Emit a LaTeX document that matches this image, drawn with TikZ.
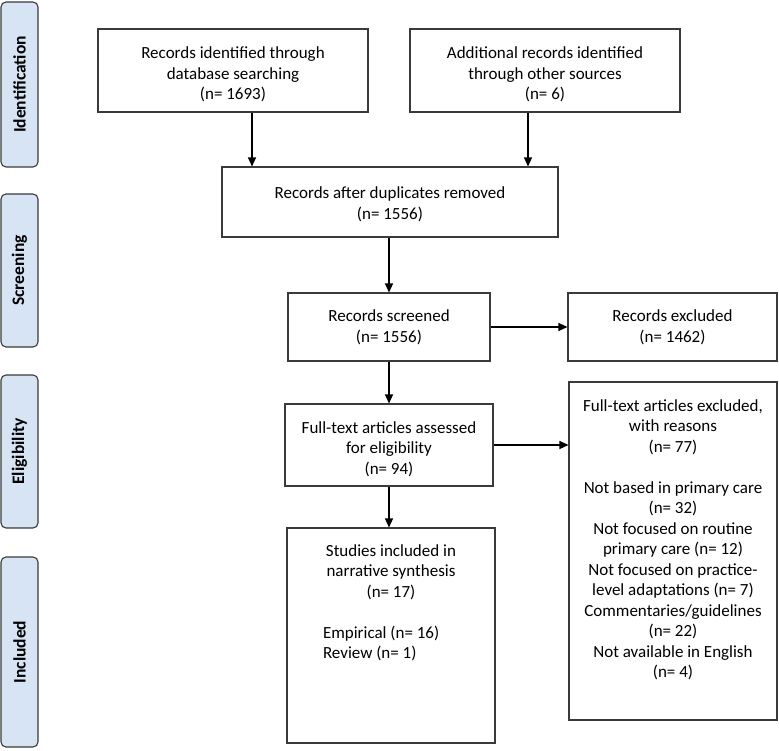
\documentclass[tikz,border=0pt]{standalone}
\usepackage{fontspec}
\setmainfont{Carlito}
\usetikzlibrary{arrows.meta}
\definecolor{tabblue}{HTML}{D6E4F4}
\definecolor{edge}{HTML}{3A3A3A}
\newcommand{\lowfirst}{\rule{0pt}{20pt}}
\begin{document}
\begin{tikzpicture}[x=1pt,y=-1pt,
  box/.style={draw=edge, line width=1.1pt, fill=white, inner sep=0pt, align=center,
    font=\fontsize{17}{20.6}\selectfont},
  tallbox/.style={draw=edge, line width=1.1pt, fill=white, inner sep=0pt,
    font=\fontsize{17}{20.5}\selectfont},
  tab/.style={draw=edge, line width=1.1pt, fill=tabblue, rounded corners=5pt,
    rotate=90, minimum height=37pt, inner sep=0pt,
    font=\fontsize{17.5}{19}\selectfont\bfseries},
  arr/.style={draw=black, line width=1.2pt, -{Triangle[length=9pt,width=8pt]}}]
\useasboundingbox (0,0) rectangle (779,751);

% phase tabs
\node[tab, minimum width=165pt] (tid) at (19.5,84.5) {Identification};
\node[tab, minimum width=153pt] (tsc) at (19.5,270.5) {Screening};
\node[tab, minimum width=153pt] (tel) at (19.5,451.5) {Eligibility};
\node[tab, minimum width=190pt] (tin) at (19.5,652) {Included};

% boxes
\node[box, minimum width=270pt, minimum height=83pt] (b1) at (233,70.5)
  {\lowfirst Records identified through\\database searching\\(n= 1693)};
\node[box, minimum width=270pt, minimum height=83pt] (b2) at (545,70.5)
  {\lowfirst Additional records identified\\through other sources\\(n= 6)};
\node[box, minimum width=336pt, minimum height=70pt] (b3) at (390,202)
  {\rule{0pt}{16pt}Records after duplicates removed\\(n= 1556)};
\node[box, minimum width=202pt, minimum height=68pt] (b4) at (389,327)
  {Records screened\\(n= 1556)};
\node[box, minimum width=209pt, minimum height=68pt] (b5) at (672.5,327)
  {Records excluded\\(n= 1462)};
\node[box, minimum width=208pt, minimum height=82pt] (b6) at (389,445)
  {\lowfirst Full-text articles assessed\\for eligibility\\(n= 94)};
\node[tallbox, minimum width=208pt, minimum height=338pt] (b7) at (673,551)
  {\parbox[t][338pt][t]{206pt}{\centering\rule{0pt}{29pt}Full-text articles excluded,\\
   with reasons\\(n= 77)\\[20.5pt]
   Not based in primary care\\(n= 32)\\
   Not focused on routine\\primary care (n= 12)\\
   Not focused on practice-\\level adaptations (n= 7)\\
   Commentaries/guidelines\\(n= 22)\\
   Not available in English\\(n= 4)}};
\node[tallbox, minimum width=208pt, minimum height=215pt] (b8) at (391,635.5)
  {\parbox[t][215pt][t]{206pt}{\centering\rule{0pt}{28pt}Studies included in\\
   narrative synthesis\\(n= 17)\\[20.5pt]
   \makebox[136pt][l]{Empirical (n= 16)}\\
   \makebox[136pt][l]{Review (n= 1)}}};

% connectors
\coordinate (cL) at (252,0);
\coordinate (cR) at (528,0);
\draw[arr] (b1.south -| cL) -- (b3.north -| cL);
\draw[arr] (b2.south -| cR) -- (b3.north -| cR);
\draw[arr] (b3.south -| b4.north) -- (b4.north);
\draw[arr] (b4.east) -- (b5.west);
\draw[arr] (b4.south) -- (b6.north -| b4.south);
\draw[arr] (b6.east) -- (b7.west |- b6.east);
\draw[arr] (b6.south) -- (b8.north -| b6.south);
\end{tikzpicture}
\end{document}
